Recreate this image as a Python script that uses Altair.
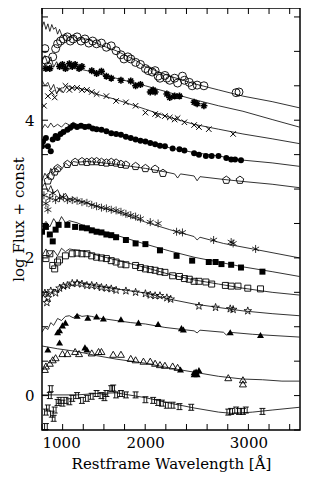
import altair as alt
import pandas as pd

# ---------------- axes ----------------
X_DOMAIN = [1000, 3500]
Y_DOMAIN = [-0.5, 5.63]
X_LABELS = [1000, 2000, 3000]
Y_LABELS = [0, 2, 4]
X_TICKS = [1000, 1200, 1400, 1600, 1800, 2000, 2200, 2400, 2600, 2800, 3000, 3200, 3400]
Y_TICKS = [-0.5, 0, 0.5, 1, 1.5, 2, 2.5, 3, 3.5, 4, 4.5, 5, 5.5]
X_TITLE = "Restframe Wavelength [Å]"
Y_TITLE = "log Flux + const"

# ---------------- series (wavelength, log flux) ----------------
S1_LINE = [(1000,5.35),(1019,5.43),(1038,5.32),(1057,5.40),(1076,5.29),(1095,5.39),(1113,5.32),(1132,5.35),
           (1151,5.25),(1170,5.32),(1198,5.21),(1227,5.25),(1265,5.21),(1302,5.23),(1340,5.18),(1435,5.18),
           (1529,5.12),(1624,5.06),(1718,5.01),(1813,4.94),(1907,4.87),(2002,4.78),(2238,4.64),(2474,4.53),
           (2710,4.44),(2947,4.35),(3230,4.27),(3495,4.18)]
S1_PTS = [(1028,5.04),(1038,4.87),(1057,4.78),(1104,4.92),(1132,5.04),(1151,5.11),(1180,5.15),(1208,5.18),
          (1246,5.21),(1274,5.15),(1302,5.18),(1340,5.21),(1378,5.15),(1416,5.18),(1454,5.12),(1491,5.15),
          (1529,5.11),(1576,5.12),(1624,5.06),(1671,5.08),(1718,5.01),(1765,4.95),(1794,4.89),(1832,4.92),
          (1860,4.89),(1907,4.84),(1954,4.81),(2002,4.75),(2030,4.72),(2068,4.70),(2096,4.72),(2125,4.64),
          (2143,4.61),(2191,4.65),(2210,4.61),(2238,4.58),(2285,4.61),(2314,4.54),(2361,4.64),(2380,4.58),
          (2427,4.55),(2455,4.50),(2503,4.51),(2569,4.50),(2881,4.40),(2909,4.41)]

S2_LINE = [(1000,4.86),(1028,4.94),(1057,4.82),(1085,4.92),(1113,4.77),(1142,4.85),(1170,4.75),(1208,4.80),
           (1246,4.72),(1293,4.77),(1340,4.75),(1435,4.72),(1529,4.68),(1718,4.61),(2002,4.50),(2238,4.40),
           (2474,4.30),(2710,4.21),(2947,4.13),(3230,4.01),(3495,3.90)]
S2_PTS = [(1038,4.75),(1076,4.75),(1170,4.78),(1198,4.81),(1227,4.75),(1265,4.82),(1293,4.78),(1321,4.81),
          (1359,4.75),(1387,4.78),(1482,4.72),(1529,4.68),(1576,4.71),(1624,4.64),(1671,4.61),(1765,4.58),
          (1860,4.57),(1907,4.50),(1954,4.52),(2049,4.41),(2077,4.44),(2096,4.41),(2210,4.38),(2238,4.33),
          (2285,4.35),(2332,4.35),(2474,4.26),(2503,4.24),(2569,4.21)]

S3_LINE = [(1000,4.58),(1028,4.50),(1057,4.55),(1085,4.44),(1113,4.52),(1142,4.38),(1170,4.47),(1208,4.40),
           (1246,4.50),(1293,4.47),(1340,4.47),(1435,4.44),(1529,4.38),(1718,4.30),(2002,4.16),(2238,4.04),
           (2474,3.94),(2710,3.87),(2947,3.80),(3230,3.73),(3495,3.66)]
S3_PTS = [(1019,4.21),(1057,4.35),(1095,4.40),(1123,4.33),(1170,4.44),(1227,4.50),(1265,4.44),(1293,4.47),
          (1340,4.47),(1387,4.44),(1435,4.44),(1482,4.41),(1529,4.38),(1624,4.35),(1718,4.28),(1813,4.26),
          (1907,4.21),(2002,4.11),(2096,4.09),(2125,4.07),(2191,4.06),(2238,4.04),(2285,4.01),(2314,4.03),
          (2380,3.97),(2474,3.93),(2521,3.90),(2616,3.87),(2852,3.80)]

S4_LINE = [(1000,3.87),(1028,3.94),(1057,3.89),(1085,3.96),(1113,3.90),(1151,3.94),(1189,3.90),(1227,3.96),
           (1265,3.93),(1302,3.97),(1340,3.94),(1435,3.93),(1529,3.89),(1624,3.84),(1718,3.80),(1813,3.76),
           (2002,3.69),(2238,3.60),(2474,3.53),(2710,3.48),(2947,3.42),(3230,3.38),(3495,3.33)]
S4_PTS = [(1000,3.62),(1010,3.69),(1038,3.74),(1057,3.62),(1085,3.55),(1104,3.72),(1132,3.77),(1151,3.74),
          (1180,3.80),(1208,3.83),(1246,3.86),(1274,3.89),(1302,3.92),(1340,3.90),(1378,3.92),(1416,3.90),
          (1454,3.91),(1491,3.88),(1529,3.87),(1576,3.86),(1624,3.84),(1671,3.81),(1718,3.80),(1765,3.79),
          (1813,3.76),(1860,3.74),(1907,3.72),(1954,3.70),(2002,3.69),(2049,3.67),(2096,3.65),(2143,3.63),
          (2191,3.62),(2266,3.59),(2332,3.58),(2380,3.56),(2474,3.52),(2521,3.50),(2588,3.48),(2644,3.48),
          (2710,3.48),(2786,3.45),(2833,3.43),(2871,3.43),(2928,3.42)]

S5_LINE = [(1000,3.12),(1028,3.23),(1057,3.16),(1085,3.30),(1113,3.23),(1151,3.33),(1189,3.28),(1227,3.38),
           (1265,3.33),(1302,3.40),(1340,3.39),(1435,3.40),(1529,3.39),(1718,3.36),(2002,3.30),(2191,3.25),
           (2285,3.22),(2314,3.16),(2342,3.22),(2474,3.19),(2503,3.12),(2531,3.18),(2758,3.14),(2947,3.11),
           (3230,3.07),(3495,3.02)]
S5_PTS = [(1057,3.12),(1085,3.19),(1123,3.25),(1151,3.30),(1246,3.36),(1321,3.39),(1387,3.40),(1435,3.39),
          (1482,3.40),(1529,3.40),(1576,3.39),(1624,3.38),(1671,3.39),(1718,3.38),(1765,3.36),(1813,3.35),
          (1907,3.33),(2002,3.30),(2096,3.29),(2172,3.23),(2786,3.13),(2918,3.13)]

S6_LINE = [(1000,3.02),(1028,3.09),(1057,2.96),(1085,3.05),(1113,2.94),(1151,2.99),(1189,2.87),(1227,2.94),
           (1265,2.84),(1302,2.88),(1340,2.84),(1435,2.80),(1529,2.75),(1718,2.67),(2002,2.52),(2238,2.41),
           (2474,2.31),(2503,2.26),(2531,2.30),(2758,2.21),(3042,2.13),(3495,2.00)]
S6_PTS = [(1019,2.91),(1038,2.79),(1057,2.70),(1076,2.87),(1104,2.94),(1132,2.84),(1170,2.87),(1208,2.88),
          (1246,2.84),(1293,2.84),(1340,2.83),(1387,2.81),(1435,2.80),(1482,2.77),(1529,2.75),(1576,2.73),
          (1624,2.72),(1671,2.70),(1718,2.69),(1765,2.67),(1813,2.64),(1860,2.62),(1907,2.60),(1954,2.57),
          (2049,2.52),(2125,2.50),(2304,2.38),(2361,2.37),(2663,2.26),(2833,2.23),(2852,2.21),(3070,2.13)]

S7_LINE = [(1000,2.45),(1038,2.53),(1076,2.45),(1113,2.57),(1151,2.48),(1189,2.60),(1227,2.51),(1265,2.54),
           (1340,2.51),(1435,2.45),(1529,2.41),(1718,2.33),(2002,2.20),(2238,2.10),(2474,2.01),(2710,1.94),
           (2947,1.87),(3230,1.80),(3495,1.73)]
S7_PTS = [(1000,2.38),(1038,2.45),(1076,2.34),(1104,2.24),(1132,2.41),(1161,2.48),(1246,2.48),(1321,2.45),
          (1387,2.44),(1435,2.43),(1482,2.40),(1529,2.38),(1576,2.37),(1624,2.34),(1671,2.33),(1718,2.30),
          (1813,2.26),(1907,2.21),(2002,2.20),(2143,2.11),(2304,2.03),(2455,1.96),(2616,1.94),(2682,1.94),
          (2739,1.91),(2833,1.90),(2928,1.86),(3136,1.80)]

S8_LINE = [(1000,2.03),(1038,2.13),(1076,2.03),(1113,2.11),(1151,2.03),(1189,2.14),(1227,2.09),(1265,2.13),
           (1340,2.11),(1435,2.09),(1529,2.04),(1718,1.97),(2002,1.86),(2238,1.76),(2474,1.68),(2710,1.62),
           (2947,1.56),(3230,1.50),(3495,1.46)]
S8_PTS = [(1038,1.99),(1076,2.06),(1104,1.89),(1123,1.84),(1151,1.94),(1170,1.97),(1227,2.03),(1293,2.06),
          (1340,2.07),(1387,2.06),(1435,2.06),(1482,2.03),(1529,2.01),(1576,2.00),(1624,1.99),(1671,1.96),
          (1718,1.94),(1765,1.91),(1813,1.90),(1907,1.89),(1954,1.86),(2002,1.84),(2049,1.83),(2096,1.82),
          (2143,1.80),(2191,1.79),(2266,1.74),(2332,1.73),(2380,1.70),(2427,1.69),(2474,1.66),(2521,1.66),
          (2588,1.65),(2644,1.62),(2777,1.60),(2833,1.59),(2899,1.59),(2994,1.56),(3117,1.55)]

S9_LINE = [(1000,1.42),(1038,1.52),(1076,1.45),(1113,1.55),(1151,1.49),(1189,1.60),(1227,1.55),(1265,1.63),
           (1302,1.59),(1340,1.67),(1387,1.63),(1435,1.62),(1529,1.59),(1718,1.55),(2002,1.49),(2238,1.40),
           (2474,1.33),(2710,1.28),(2947,1.23),(3230,1.19),(3495,1.16)]
S9_PTS = [(1028,1.49),(1047,1.35),(1057,1.42),(1085,1.52),(1132,1.49),(1170,1.56),(1208,1.59),(1246,1.60),
          (1293,1.63),(1340,1.63),(1387,1.62),(1435,1.60),(1482,1.60),(1529,1.59),(1576,1.57),(1624,1.56),
          (1671,1.55),(1718,1.53),(1813,1.52),(1907,1.50),(2002,1.48),(2049,1.46),(2096,1.45),(2143,1.45),
          (2210,1.42),(2247,1.40),(2521,1.30),(2682,1.28),(2824,1.26),(2852,1.25),(2994,1.23)]

S10_LINE = [(1000,0.92),(1028,0.99),(1057,0.96),(1085,1.06),(1113,1.02),(1151,1.12),(1189,1.09),(1227,1.15),
            (1265,1.16),(1302,1.13),(1340,1.18),(1387,1.15),(1435,1.16),(1482,1.15),(1529,1.13),(1624,1.11),
            (1718,1.09),(1860,1.06),(2002,1.04),(2191,0.99),(2361,0.96),(2474,0.94),(2503,0.91),(2531,0.95),
            (2758,0.92),(2786,0.88),(2814,0.92),(3042,0.89),(3495,0.85)]
S10_PTS = [(1151,0.92),(1170,0.95),(1198,1.02),(1227,1.06),(1340,1.16),(1444,1.13),(1529,1.15),(1595,1.12),
           (1765,1.11),(1935,1.06),(2125,1.04),(2351,0.98),(2370,0.96),(2824,0.92),(3117,0.88)]

S11_LINE = [(1000,0.72),(1151,0.68),(1340,0.64),(1529,0.58),(1718,0.53),(2002,0.47),(2238,0.40),(2474,0.34),
            (2710,0.28),(2947,0.24),(3136,0.23),(3325,0.21),(3495,0.21)]
S11_OPEN = [(1028,0.38),(1038,0.43),(1076,0.47),(1104,0.52),(1132,0.55),(1198,0.61),(1246,0.61),(1321,0.64),
            (1359,0.61),(1482,0.62),(1548,0.64),(1576,0.64),(1690,0.60),(1765,0.60),(1860,0.54),(1907,0.52),
            (1983,0.50),(2049,0.50),(2096,0.47),(2143,0.45),(2191,0.44),(2266,0.43),(2314,0.41),(2805,0.26),
            (2947,0.23),(2947,0.17)]
S11_FILLED = [(1057,0.67),(1170,0.77),(1416,0.70),(1435,0.67),(2342,0.38),(2474,0.34),(2493,0.35),(2521,0.37),
              (2503,0.31),(2474,0.31)]

S12_LINE = [(1000,0.01),(1113,0.01),(1340,0.01),(1529,0.03),(1718,0.04),(2002,-0.03),(2238,-0.11),(2474,-0.18),
            (2710,-0.24),(2852,-0.26),(3042,-0.24),(3230,-0.21),(3495,-0.17)]
S12_PTS = [(1038,-0.24),(1038,-0.45),(1057,-0.18),(1076,0.00),(1085,0.10),(1095,-0.27),(1113,-0.33),(1123,-0.21),
           (1151,-0.10),(1170,-0.07),(1198,-0.11),(1227,-0.07),(1265,-0.09),(1293,-0.04),(1340,0.00),(1387,-0.07),
           (1435,-0.04),(1482,-0.01),(1529,0.03),(1576,0.00),(1605,-0.03),(1624,0.03),(1671,0.10),(1690,0.11),
           (1718,0.01),(1765,0.03),(1813,0.01),(1907,0.01),(2002,-0.06),(2077,-0.07),(2125,-0.10),(2162,-0.11),
           (2210,-0.14),(2266,-0.14),(2332,-0.16),(2446,-0.17),(2805,-0.24),(2833,-0.23),(2881,-0.21),(2909,-0.23),
           (2947,-0.23),(2975,-0.21),(3136,-0.23)]

LINES = [S1_LINE, S2_LINE, S3_LINE, S4_LINE, S5_LINE, S6_LINE, S7_LINE, S8_LINE, S9_LINE, S10_LINE, S11_LINE, S12_LINE]

ASTERISK = "M-1,0L1,0M0,-1L0,1M-0.7,-0.7L0.7,0.7M-0.7,0.7L0.7,-0.7"
XCROSS = "M-1,-1L1,1M-1,1L1,-1"
ASTER6 = "M0,-1L0,1M-0.87,-0.5L0.87,0.5M-0.87,0.5L0.87,-0.5"
PENTAGON = "M0,-1L0.95,-0.31L0.59,0.81L-0.59,0.81L-0.95,-0.31Z"
STAR = ("M0,-1L0.22,-0.31L0.95,-0.31L0.36,0.12L0.59,0.81L0,0.38L-0.59,0.81L-0.36,0.12"
        "L-0.95,-0.31L-0.22,-0.31Z")
HBOX = "M-1,-1L1,-1M-1,1L1,1M-0.45,-1L-0.45,1M0.45,-1L0.45,1"

# (points, shape, filled, size, strokeWidth)
MARKERS = [
    (S1_PTS, "circle", False, 64, 0.9),
    (S2_PTS, ASTERISK, False, 49, 1.6),
    (S3_PTS, XCROSS, False, 30, 1.0),
    (S4_PTS, "circle", True, 36, 1.0),
    (S5_PTS, PENTAGON, False, 64, 0.9),
    (S6_PTS, ASTER6, False, 64, 0.8),
    (S7_PTS, "square", True, 36, 1.0),
    (S8_PTS, "square", False, 36, 0.9),
    (S9_PTS, STAR, False, 64, 0.8),
    (S10_PTS, "triangle-up", True, 49, 1.0),
    (S11_OPEN, "triangle-up", False, 49, 0.9),
    (S11_FILLED, "triangle-up", True, 49, 1.0),
    (S12_PTS, HBOX, False, 36, 0.9),
]

W, H = 258, 422
FONT = "DejaVu Serif"

xs = alt.Scale(domain=X_DOMAIN, nice=False, zero=False)
ys = alt.Scale(domain=Y_DOMAIN, nice=False, zero=False)

x_axis = alt.Axis(values=X_LABELS, format="d", ticks=False, domain=False, grid=False, labelFont=FONT,
                  labelFontSize=15, labelColor="black", labelPadding=5, title=X_TITLE,
                  titleFont=FONT, titleFontSize=15, titleFontWeight="normal", titleColor="black",
                  titlePadding=6)
y_axis = alt.Axis(values=Y_LABELS, format="d", ticks=False, domain=False, grid=False, labelFont=FONT,
                  labelFontSize=15, labelColor="black", labelPadding=8, title=Y_TITLE,
                  titleFont=FONT, titleFontSize=15, titleFontWeight="normal", titleColor="black",
                  titleX=-19, titleY=H / 2, titleAngle=270, titleAlign="center",
                  titleBaseline="alphabetic")

X = lambda: alt.X("wave:Q", scale=xs, axis=x_axis)
Y = lambda: alt.Y("flux:Q", scale=ys, axis=y_axis)

line_rows = []
for i, s in enumerate(LINES):
    for j, (w, f) in enumerate(s):
        line_rows.append({"series": i, "idx": j, "wave": w, "flux": f})
line_df = pd.DataFrame(line_rows)

layers = [
    alt.Chart(line_df).mark_line(color="black", strokeWidth=0.8, clip=True).encode(
        x=X(), y=Y(), detail="series:N", order="idx:Q")
]

for pts, shape, filled, size, sw in MARKERS:
    df = pd.DataFrame(pts, columns=["wave", "flux"])
    layers.append(
        alt.Chart(df).mark_point(shape=shape, filled=filled, size=size, strokeWidth=sw,
                                 color="black", opacity=1, clip=True).encode(x=X(), y=Y())
    )

# inward tick marks on all four sides
TL = 6
xt = pd.DataFrame({"wave": X_TICKS})
yt = pd.DataFrame({"flux": Y_TICKS})
layers += [
    alt.Chart(xt).mark_rule(color="black", strokeWidth=1).encode(
        x=X(), y=alt.value(H), y2=alt.value(H - TL)),
    alt.Chart(xt).mark_rule(color="black", strokeWidth=1).encode(
        x=X(), y=alt.value(0), y2=alt.value(TL)),
    alt.Chart(yt).mark_rule(color="black", strokeWidth=1).encode(
        y=Y(), x=alt.value(0), x2=alt.value(TL)),
    alt.Chart(yt).mark_rule(color="black", strokeWidth=1).encode(
        y=Y(), x=alt.value(W), x2=alt.value(W - TL)),
]

chart = alt.layer(*layers).properties(
    width=W, height=H,
    background="white",
    autosize=alt.AutoSizeParams(type="none"),
    padding={"left": 34, "top": 0, "right": 1, "bottom": 44},
).configure_view(stroke="black", strokeWidth=1.5)

chart.save("out.html", embed_options={"renderer": "svg", "actions": False})
